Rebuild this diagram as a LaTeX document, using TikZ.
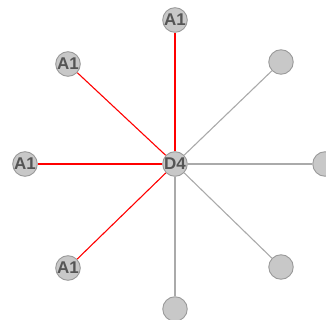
\documentclass[tikz,border=0pt]{standalone}
\usepackage{fontspec}
\setmainfont{Liberation Sans}
\definecolor{nodefill}{HTML}{C8C8C8}
\definecolor{nodeline}{HTML}{9A9A9A}
\definecolor{txt}{HTML}{555555}
\definecolor{grayedge}{HTML}{AAAAAA}
\begin{document}
\begin{tikzpicture}[x=1pt,y=-1pt,
  vert/.style={circle,draw=nodeline,fill=nodefill,line width=0.9pt,minimum size=24.5pt,inner sep=0pt,font=\fontsize{17}{18}\selectfont\bfseries,text=txt},
  redge/.style={draw=red,line width=1.1pt},
  gedge/.style={draw=grayedge,line width=1.1pt}]
\useasboundingbox (0,0) rectangle (326,320);
\begin{scope}
\clip (0,0) rectangle (326,320);
\node[vert] (c) at (175,164) {D4};
\node[vert] (n) at (175,20) {A1};
\node[vert] (nw) at (68,64) {A1};
\node[vert] (w) at (25,164) {A1};
\node[vert] (sw) at (68,268) {A1};
\node[vert] (s) at (175,309) {};
\node[vert] (se) at (281,267) {};
\node[vert] (e) at (325,164) {};
\node[vert] (ne) at (281,62) {};
\draw[redge] (c) -- (n);
\draw[redge] (c) -- (nw);
\draw[redge] (c) -- (w);
\draw[redge] (c) -- (sw);
\draw[gedge] (c) -- (s);
\draw[gedge] (c) -- (se);
\draw[gedge] (c) -- (e);
\draw[gedge] (c) -- (ne);
\end{scope}
\end{tikzpicture}
\end{document}
